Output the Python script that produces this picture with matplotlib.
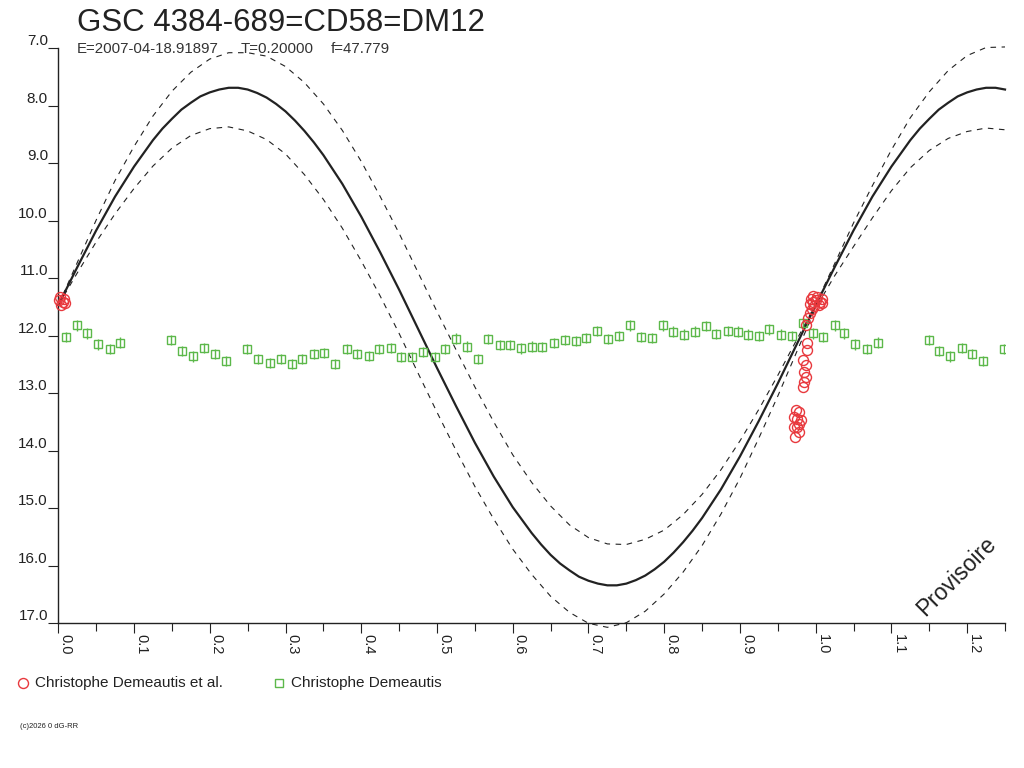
import matplotlib
matplotlib.use("Agg")
import matplotlib.pyplot as plt
from matplotlib.lines import Line2D
import numpy as np

plt.rcParams['font.family'] = ['Liberation Sans', 'DejaVu Sans']

# ---------------- data ----------------
title = "GSC 4384-689=CD58=DM12"
info_epoch = "E=2007-04-18.91897"
info_period = "T=0.20000"
info_f = "f=47.779"
series_red = "Christophe Demeautis et al."
series_green = "Christophe Demeautis"
stamp = "(c)2026 0 dG-RR"
watermark = "Provisoire"

# mean model light curve
mean_phase = [0.0, 0.025, 0.05, 0.075, 0.1, 0.125, 0.1375, 0.15, 0.1625, 0.175,
              0.1875, 0.2, 0.2125, 0.225, 0.2375, 0.25, 0.2625, 0.275, 0.2875, 0.3,
              0.3125, 0.325, 0.3375, 0.35, 0.375, 0.4, 0.425, 0.45, 0.475, 0.5,
              0.525, 0.55, 0.575, 0.6, 0.625, 0.6375, 0.65, 0.6625, 0.675, 0.6875,
              0.7, 0.7125, 0.725, 0.7375, 0.75, 0.7625, 0.775, 0.7875, 0.8, 0.8125,
              0.825, 0.8375, 0.85, 0.875, 0.9, 0.925, 0.95, 0.975, 1.0, 1.025,
              1.05, 1.075, 1.1, 1.125, 1.1375, 1.15, 1.1625, 1.175, 1.1875, 1.2,
              1.2125, 1.225, 1.2375, 1.25]
mean_mag = [11.47, 10.81, 10.17, 9.58, 9.06, 8.60, 8.40, 8.23, 8.07, 7.95,
            7.84, 7.77, 7.72, 7.69, 7.69, 7.72, 7.78, 7.86, 7.97, 8.10,
            8.26, 8.44, 8.64, 8.86, 9.36, 9.93, 10.55, 11.20, 11.88, 12.56,
            13.22, 13.86, 14.45, 14.98, 15.43, 15.63, 15.81, 15.96, 16.08, 16.19,
            16.26, 16.31, 16.34, 16.34, 16.31, 16.25, 16.17, 16.06, 15.93, 15.77,
            15.59, 15.39, 15.17, 14.67, 14.10, 13.48, 12.83, 12.15, 11.47, 10.81,
            10.17, 9.58, 9.06, 8.60, 8.40, 8.23, 8.07, 7.95, 7.84, 7.77,
            7.72, 7.69, 7.69, 7.72]

# envelope curves (dashed)
band_phase = [0.0, 0.025, 0.05, 0.075, 0.1, 0.125, 0.15, 0.175, 0.2, 0.225,
              0.25, 0.275, 0.3, 0.325, 0.35, 0.375, 0.4, 0.425, 0.45, 0.475,
              0.5, 0.525, 0.55, 0.575, 0.6, 0.625, 0.65, 0.675, 0.7, 0.725,
              0.75, 0.775, 0.8, 0.825, 0.85, 0.875, 0.9, 0.925, 0.95, 0.975,
              1.0, 1.025, 1.05, 1.075, 1.1, 1.125, 1.15, 1.175, 1.2, 1.225, 1.25]
band_bright = [11.47, 10.73, 9.99, 9.30, 8.71, 8.18, 7.75, 7.42, 7.19, 7.08,
               7.08, 7.14, 7.32, 7.60, 7.97, 8.43, 8.97, 9.58, 10.22, 10.90,
               11.58, 12.24, 12.89, 13.50, 14.07, 14.55, 14.96, 15.29, 15.51, 15.62,
               15.63, 15.54, 15.38, 15.11, 14.76, 14.33, 13.83, 13.28, 12.69, 12.07,
               11.45, 10.75, 10.04, 9.39, 8.77, 8.21, 7.76, 7.39, 7.13, 6.99, 6.98]
band_faint = [11.47, 10.91, 10.37, 9.88, 9.44, 9.05, 8.74, 8.52, 8.40, 8.37,
              8.44, 8.59, 8.84, 9.20, 9.63, 10.13, 10.70, 11.31, 11.96, 12.65,
              13.33, 13.99, 14.62, 15.19, 15.71, 16.15, 16.53, 16.81, 17.00, 17.07,
              16.99, 16.79, 16.49, 16.11, 15.65, 15.10, 14.48, 13.78, 13.05, 12.28,
              11.52, 10.96, 10.45, 9.95, 9.48, 9.08, 8.78, 8.57, 8.45, 8.39, 8.42]

green_phase = [0.010, 0.025, 0.038, 0.052, 0.068, 0.082, 0.149, 0.163, 0.178, 0.193,
               0.207, 0.221, 0.249, 0.264, 0.279, 0.294, 0.308, 0.322, 0.337, 0.351,
               0.366, 0.381, 0.395, 0.410, 0.424, 0.439, 0.453, 0.467, 0.481, 0.497,
               0.510, 0.525, 0.540, 0.554, 0.568, 0.583, 0.596, 0.611, 0.625, 0.639,
               0.654, 0.669, 0.683, 0.697, 0.711, 0.726, 0.740, 0.755, 0.770, 0.784,
               0.798, 0.812, 0.826, 0.841, 0.855, 0.869, 0.884, 0.898, 0.911, 0.925,
               0.939, 0.954, 0.969, 0.983, 0.997]
green_mag = [12.02, 11.82, 11.96, 12.15, 12.23, 12.12, 12.08, 12.27, 12.36, 12.21,
             12.32, 12.44, 12.23, 12.40, 12.47, 12.40, 12.49, 12.41, 12.32, 12.30,
             12.49, 12.23, 12.32, 12.35, 12.23, 12.21, 12.37, 12.37, 12.28, 12.37,
             12.23, 12.05, 12.19, 12.40, 12.06, 12.16, 12.16, 12.22, 12.19, 12.20,
             12.13, 12.07, 12.09, 12.04, 11.92, 12.06, 12.00, 11.82, 12.02, 12.04,
             11.82, 11.93, 11.98, 11.93, 11.83, 11.97, 11.92, 11.93, 11.98, 12.00,
             11.89, 11.98, 12.00, 11.78, 11.96]
green_err = 0.09

red_phase = [0.001, 0.002, 0.004, 0.006, 0.008, 0.009,
             0.994, 0.996, 0.997, 0.998, 0.995, 0.993,
             0.992, 0.990, 0.987,
             0.988, 0.989, 0.983, 0.987, 0.985, 0.987, 0.985, 0.983,
             0.974, 0.978, 0.972, 0.976, 0.981, 0.978, 0.975, 0.978, 0.973, 0.971]
red_mag = [11.38, 11.33, 11.47, 11.42, 11.36, 11.44,
           11.36, 11.31, 11.42, 11.48, 11.53, 11.45,
           11.61, 11.70, 11.82,
           12.13, 12.25, 12.42, 12.51, 12.63, 12.71, 12.80, 12.89,
           13.29, 13.32, 13.41, 13.44, 13.47, 13.53, 13.58, 13.67, 13.76, 13.58]

x_major = [0.0, 0.1, 0.2, 0.3, 0.4, 0.5, 0.6, 0.7, 0.8, 0.9, 1.0, 1.1, 1.2]
x_minor = [0.05, 0.15, 0.25, 0.35, 0.45, 0.55, 0.65, 0.75, 0.85, 0.95, 1.05, 1.15, 1.25]
y_major = [7, 8, 9, 10, 11, 12, 13, 14, 15, 16, 17]

# ---------------- figure ----------------
W, H = 1024, 768
fig = plt.figure(figsize=(W / 100, H / 100), dpi=100)
fig.patch.set_facecolor('white')


def fx(px):
    return px / W


def fy(py):
    return 1 - py / H


ax = fig.add_axes([fx(58.3), fy(623.3), (1005 - 58.3) / W, (623.3 - 48.1) / H])
ax.set_xlim(0, 1.25)
ax.set_ylim(17, 7)

ink = '#222222'
red = '#e8383d'
green = '#5cb84a'

# model curves
ax.plot(mean_phase, mean_mag, color=ink, lw=1.6, zorder=2, clip_on=False,
        solid_joinstyle='round')
ax.plot(band_phase, band_bright, color=ink, lw=0.8, dashes=(5, 5), zorder=2, clip_on=False)
ax.plot(band_phase, band_faint, color=ink, lw=0.8, dashes=(5, 5), zorder=2, clip_on=False)

# data (phase diagram repeats phases < 0.25 after 1.0)
gp = np.array(green_phase)
gm = np.array(green_mag)
gsel = gp < 0.25
gx = np.concatenate([gp, gp[gsel] + 1])
gy = np.concatenate([gm, gm[gsel]])
ax.errorbar(gx, gy, yerr=green_err, fmt='s', ms=5.4, mfc='none', mec=green, mew=1.0,
            ecolor=green, elinewidth=1.0, capsize=0, zorder=3)

rp = np.array(red_phase)
rm = np.array(red_mag)
rsel = rp < 0.25
rx = np.concatenate([rp, rp[rsel] + 1])
ry = np.concatenate([rm, rm[rsel]])
ax.plot(rx, ry, 'o', ms=7.2, mfc='none', mec=red, mew=1.0, zorder=4, clip_on=False)

# axes styling
for s in ('top', 'right'):
    ax.spines[s].set_visible(False)
for s in ('left', 'bottom'):
    ax.spines[s].set_color(ink)
    ax.spines[s].set_linewidth(1.0)

ax.set_xticks(x_major)
ax.set_xticks(x_minor, minor=True)
ax.set_xticklabels([f"{v:.1f}" for v in x_major])
ax.set_yticks(y_major)
ax.set_yticklabels([f"{v:.1f}" for v in y_major])

ax.tick_params(axis='x', which='major', direction='out', length=7.2, width=0.8,
               color=ink, pad=0.5, labelsize=10.5, labelcolor=ink)
ax.tick_params(axis='x', which='minor', direction='out', length=6.0, width=0.8, color=ink)
ax.tick_params(axis='y', which='major', direction='out', length=7.2, width=0.8,
               color=ink, pad=0.3, labelsize=11, labelcolor=ink)
for lab in ax.get_xticklabels():
    lab.set_rotation(-90)
    lab.set_ha('left')
    lab.set_va('top')
for lab in ax.get_yticklabels():
    lab.set_va('bottom')

# texts
fig.text(fx(77), fy(31), title, fontsize=22.5, color=ink, va='baseline', ha='left')
fig.text(fx(77), fy(53), info_epoch, fontsize=10.8, color='#333333', va='baseline', ha='left')
fig.text(fx(241), fy(53), info_period, fontsize=10.8, color='#333333', va='baseline', ha='left')
fig.text(fx(331), fy(53), info_f, fontsize=10.8, color='#333333', va='baseline', ha='left')

fig.text(fx(957), fy(576), watermark, fontsize=16.5, color=ink, rotation=45,
         ha='center', va='center')

# legend (manual)
fig.add_artist(Line2D([fx(22.5)], [fy(683)], transform=fig.transFigure, marker='o',
                      ms=7.2, mfc='none', mec=red, mew=1.0, ls='none'))
fig.text(fx(35), fy(687.5), series_red, fontsize=11, color=ink, va='baseline', ha='left')
fig.add_artist(Line2D([fx(279)], [fy(683)], transform=fig.transFigure, marker='s',
                      ms=5.5, mfc='none', mec=green, mew=1.0, ls='none'))
fig.text(fx(291), fy(687.5), series_green, fontsize=11, color=ink, va='baseline', ha='left')

fig.text(fx(20), fy(727.5), stamp, fontsize=5.5, color=ink, va='baseline', ha='left')

fig.savefig('out.png', dpi=100, facecolor='white')
